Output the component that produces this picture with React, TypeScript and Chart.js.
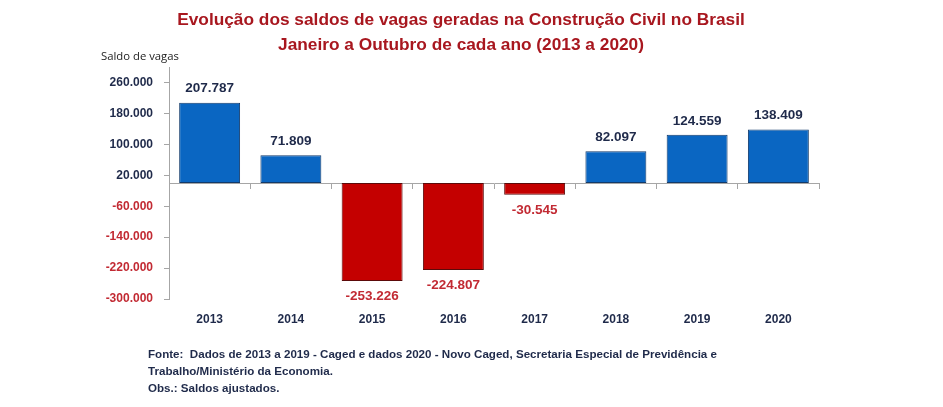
import { useEffect, useRef } from 'react';
import { Chart, registerables } from 'chart.js';

Chart.register(...registerables);

const categories = ['2013', '2014', '2015', '2016', '2017', '2018', '2019', '2020'];
const saldos = [207787, 71809, -253226, -224807, -30545, 82097, 124559, 138409];
const yTicks = [-300000, -220000, -140000, -60000, 20000, 100000, 180000, 260000];
const titleLines = [
  'Evolução dos saldos de vagas geradas na Construção Civil no Brasil',
  'Janeiro a Outubro de cada ano (2013 a 2020)',
];
const yAxisLabel = 'Saldo de vagas';
const footLines = [
  'Fonte:  Dados de 2013 a 2019 - Caged e dados 2020 - Novo Caged, Secretaria Especial de Previdência e',
  'Trabalho/Ministério da Economia.',
  'Obs.: Saldos ajustados.',
];

const NAVY = '#1f2a4a';
const RED_TXT = '#c22a33';
const TITLE_RED = '#a8171f';
const BLUE = '#0a66c2';
const BLUE_BORDER = '#123a6a';
const RED = '#c40000';
const RED_BORDER = '#5c0a0a';
const AXIS = '#a6a6a6';
const FONT = '"Liberation Sans", Arial, sans-serif';

const fmt = (v: number) => {
  const s = String(Math.abs(Math.round(v))).replace(/\B(?=(\d{3})+(?!\d))/g, '.');
  return (v < 0 ? '-' : '') + s;
};

const textPlugin = {
  id: 'textPlugin',
  afterDraw(chart: any) {
    const ctx = chart.ctx;
    const yScale = chart.scales.y;
    ctx.save();
    // title
    ctx.fillStyle = TITLE_RED;
    ctx.font = `bold 17.3px ${FONT}`;
    ctx.textAlign = 'center';
    ctx.textBaseline = 'middle';
    ctx.fillText(titleLines[0], 461, 20);
    ctx.fillText(titleLines[1], 461, 45);
    // y axis label
    ctx.fillStyle = '#222222';
    ctx.font = `11.3px "Open Sans", sans-serif`;
    ctx.textAlign = 'left';
    ctx.fillText(yAxisLabel, yScale.left + 2, 57);
    // data labels
    const meta = chart.getDatasetMeta(0);
    ctx.font = `bold 13.5px ${FONT}`;
    ctx.textAlign = 'center';
    meta.data.forEach((el: any, i: number) => {
      const v = saldos[i];
      if (v >= 0) {
        ctx.fillStyle = NAVY;
        ctx.fillText(fmt(v), el.x, el.y - 14);
      } else {
        ctx.fillStyle = RED_TXT;
        ctx.fillText(fmt(v), el.x, el.y + 15);
      }
    });
    // footnotes
    ctx.fillStyle = NAVY;
    ctx.font = `bold 11.6px ${FONT}`;
    ctx.textAlign = 'left';
    footLines.forEach((t, i) => ctx.fillText(t, 148, 355 + i * 17));
    ctx.restore();
  },
};

export default function App() {
  const ref = useRef<HTMLCanvasElement | null>(null);
  useEffect(() => {
    if (!ref.current) return;
    const chart = new Chart(ref.current, {
      type: 'bar',
      data: {
        labels: categories,
        datasets: [
          {
            data: saldos,
            backgroundColor: saldos.map((v) => (v >= 0 ? BLUE : RED)),
            borderColor: saldos.map((v) => (v >= 0 ? BLUE_BORDER : RED_BORDER)),
            borderWidth: 1,
            borderSkipped: false,
            barPercentage: 0.75,
            categoryPercentage: 1,
            xAxisID: 'x',
            yAxisID: 'y',
          },
        ],
      },
      options: {
        animation: false,
        responsive: false,
        layout: { padding: { left: 99, right: 124, top: 67, bottom: 68 } },
        plugins: {
          legend: { display: false },
          title: { display: false },
          tooltip: { enabled: false },
        },
        scales: {
          x: {
            type: 'category',
            position: 'bottom',
            offset: true,
            grid: { display: false, drawTicks: false },
            border: { display: false },
            ticks: {
              color: NAVY,
              font: { family: FONT, weight: 'bold', size: 12 },
              padding: 13,
            },
            afterFit: (s: any) => {
              s.height = 40;
            },
          },
          x0: {
            type: 'category',
            axis: 'x',
            position: { y: 0 },
            offset: true,
            grid: { offset: true, drawOnChartArea: false, drawTicks: true, tickLength: 5, color: AXIS },
            border: { display: true, color: AXIS },
            ticks: { display: false },
          },
          y: {
            type: 'linear',
            position: 'left',
            min: -300000,
            max: 300000,
            afterBuildTicks: (s: any) => {
              s.ticks = yTicks.map((v) => ({ value: v }));
            },
            grid: { drawOnChartArea: false, drawTicks: true, tickLength: 5, color: AXIS },
            border: { display: true, color: AXIS },
            ticks: {
              callback: (v: any) => fmt(Number(v)),
              color: (c: any) => (c.tick && c.tick.value < 0 ? RED_TXT : NAVY),
              font: { family: FONT, weight: 'bold', size: 12 },
              padding: 11,
            },
            afterFit: (s: any) => {
              s.width = 70;
            },
          },
        } as any,
      },
      plugins: [textPlugin],
    });
    return () => chart.destroy();
  }, []);
  return (
    <div style={{ position: 'fixed', left: 0, top: 0, width: 943, height: 407, background: '#ffffff' }}>
      <canvas ref={ref} width={943} height={407} />
    </div>
  );
}
